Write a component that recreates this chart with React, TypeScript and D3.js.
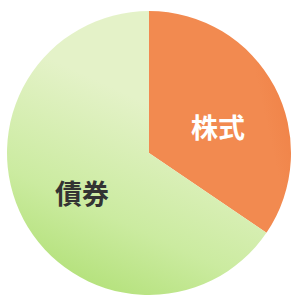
import React from "react";
import * as d3 from "d3";

const categories = ["株式", "債券"];
const values = [34.5, 65.5];
const labelColors = ["#ffffff", "#333333"];

const W = 294;
const H = 298;
const cx = 149;
const cy = 153;
const R = 142;

export default function App() {
  const pie = d3.pie<number>().sort(null).value((d) => d);
  const arcs = pie(values);
  const arc = d3.arc<d3.PieArcDatum<number>>().innerRadius(0).outerRadius(R);
  const labelOffsets = [
    [69, -27],
    [-67, 39],
  ];
  return (
    <svg
      width={W}
      height={H}
      style={{ position: "absolute", left: 0, top: 0, background: "#fff" }}
      fontFamily="'Noto Sans CJK JP', sans-serif"
    >
      <defs>
        <linearGradient id="g0" gradientUnits="userSpaceOnUse" x1={cx + 10} y1={cy} x2={cx + R} y2={cy - 30}>
          <stop offset="0" stopColor="#f28a50" />
          <stop offset="1" stopColor="#e9692b" />
        </linearGradient>
        <linearGradient id="g1" gradientUnits="userSpaceOnUse" x1={cx + 30} y1={cy - 120} x2={cx - 80} y2={cy + 120}>
          <stop offset="0" stopColor="#e4f2c8" />
          <stop offset="0.45" stopColor="#cbeba0" />
          <stop offset="1" stopColor="#9ed858" />
        </linearGradient>
      </defs>
      <g transform={`translate(${cx},${cy})`}>
        {arcs.map((a, i) => (
          <path key={i} d={arc(a) || ""} fill={`url(#g${i})`} />
        ))}
        {arcs.map((a, i) => (
          <text
            key={"t" + i}
            x={labelOffsets[i][0]}
            y={labelOffsets[i][1]}
            textAnchor="middle"
            dominantBaseline="central"
            fontSize={27}
            fontWeight="bold"
            fill={labelColors[i]}
          >
            {categories[i]}
          </text>
        ))}
      </g>
    </svg>
  );
}
